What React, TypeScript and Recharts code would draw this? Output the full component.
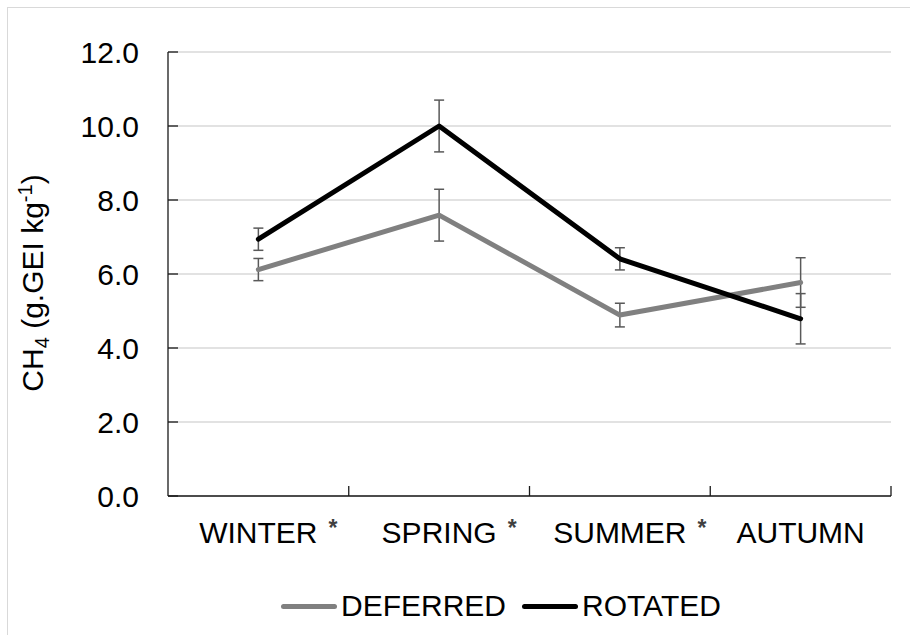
import React from 'react';
import { LineChart, Line, XAxis, YAxis, CartesianGrid, Legend, ErrorBar } from 'recharts';

// seasons on the x axis, * marks a significant difference
const categories = ['WINTER', 'SPRING', 'SUMMER', 'AUTUMN'];
const significant = [true, true, true, false];

// CH4 yield (g.GEI kg-1), mean and error
const deferred = [6.12, 7.59, 4.89, 5.77];
const deferredErr = [0.3, 0.7, 0.32, 0.67];
const rotated = [6.94, 10.0, 6.41, 4.79];
const rotatedErr = [0.3, 0.7, 0.3, 0.68];

const yTicks = [0, 2, 4, 6, 8, 10, 12];

const data = categories.map((season, i) => ({
  season,
  deferred: deferred[i],
  deferredErr: deferredErr[i],
  rotated: rotated[i],
  rotatedErr: rotatedErr[i],
}));

const W = 910;
const H = 635;
const PLOT_LEFT = 168;
const PLOT_RIGHT = 891;
const PLOT_TOP = 52;
const PLOT_BOTTOM = 496;
const BAND = (PLOT_RIGHT - PLOT_LEFT) / categories.length;
const FONT = '"Liberation Sans", Arial, sans-serif';
const FS = 30;

const measure = (() => {
  const ctx = document.createElement('canvas').getContext('2d');
  return (s: string) => {
    if (!ctx) return s.length * FS * 0.65;
    ctx.font = `${FS}px ${FONT}`;
    return ctx.measureText(s).width;
  };
})();

const SeasonTick = (props: any) => {
  const { x, y, payload } = props;
  const idx = categories.indexOf(payload.value);
  const w = measure(payload.value);
  return (
    <g>
      <line x1={x + BAND / 2} x2={x + BAND / 2} y1={PLOT_BOTTOM} y2={PLOT_BOTTOM - 10} stroke="#1a1a1a" strokeWidth={1.3} />
      <text x={x} y={y} dy="0.71em" textAnchor="middle" fontSize={FS} fontFamily={FONT} fill="#000">
        {payload.value}
      </text>
      {significant[idx] && (
        <text x={x + w / 2 + 11} y={y + 14} textAnchor="start" fontSize={23} fontWeight="bold" fontFamily={FONT} fill="#404040">
          *
        </text>
      )}
    </g>
  );
};

const ValueTick = (props: any) => {
  const { x, y, payload } = props;
  return (
    <g>
      <line x1={PLOT_LEFT} x2={PLOT_LEFT + 10} y1={y} y2={y} stroke="#1a1a1a" strokeWidth={1.3} />
      <text x={x} y={y} dy="0.355em" textAnchor="end" fontSize={FS} fontFamily={FONT} fill="#000">
        {Number(payload.value).toFixed(1)}
      </text>
    </g>
  );
};

const YTitle = () => (
  <text
    transform="translate(43, 283) rotate(-90)"
    textAnchor="middle"
    fontSize={FS}
    fontFamily={FONT}
    fill="#000"
  >
    CH<tspan fontSize={20} dy={6}>4</tspan>
    <tspan dy={-6}> (g.GEI kg</tspan>
    <tspan fontSize={20} dy={-11}>-1</tspan>
    <tspan dy={11}>)</tspan>
  </text>
);

const legendItems = [
  { name: 'DEFERRED', color: '#808080' },
  { name: 'ROTATED', color: '#000000' },
];

const renderLegend = () => (
  <div style={{ display: 'flex', alignItems: 'center', fontFamily: FONT, fontSize: FS, color: '#000', height: 34 }}>
    {legendItems.map((it, i) => (
      <div key={it.name} style={{ display: 'flex', alignItems: 'center', marginLeft: i ? 16 : 0 }}>
        <div style={{ width: 56, height: 5, borderRadius: 3, background: it.color, marginRight: 4 }} />
        <span style={{ lineHeight: '34px' }}>{it.name}</span>
      </div>
    ))}
  </div>
);

export default function App() {
  return (
    <div style={{ position: 'absolute', left: 0, top: 0, width: W, height: H, overflow: 'hidden', background: '#fff' }}>
      <div style={{ position: 'absolute', left: 7, top: 7, width: W + 20, height: H + 20, border: '1px solid #d9d9d9' }} />
      <div style={{ position: 'absolute', left: 0, top: 0 }}>
        <LineChart
          width={W}
          height={H}
          data={data}
          margin={{ top: PLOT_TOP, right: W - PLOT_RIGHT, bottom: H - PLOT_BOTTOM - 60, left: 0 }}
        >
          <CartesianGrid vertical={false} stroke="#d9d9d9" strokeWidth={1.5} />
          <XAxis
            dataKey="season"
            scale="band"
            height={60}
            tickSize={0}
            tickMargin={26}
            tickLine={false}
            axisLine={{ stroke: '#1a1a1a', strokeWidth: 1.3 }}
            tick={<SeasonTick />}
            interval={0}
          />
          <YAxis
            width={PLOT_LEFT}
            domain={[0, 12]}
            ticks={yTicks}
            tickSize={0}
            tickMargin={29}
            tickLine={false}
            axisLine={{ stroke: '#1a1a1a', strokeWidth: 1.3 }}
            tick={<ValueTick />}
            label={{ content: <YTitle /> }}
          />
          <Legend
            layout="horizontal"
            verticalAlign="middle"
            align="center"
            content={renderLegend}
            wrapperStyle={{ top: 589, left: 281, width: 'auto' }}
          />
          <Line
            dataKey="deferred"
            name="DEFERRED"
            stroke="#808080"
            strokeWidth={5}
            strokeLinecap="round"
            strokeLinejoin="round"
            dot={false}
            activeDot={false}
            isAnimationActive={false}
          >
            <ErrorBar dataKey="deferredErr" direction="y" width={5} stroke="#595959" strokeWidth={1.5} isAnimationActive={false} />
          </Line>
          <Line
            dataKey="rotated"
            name="ROTATED"
            stroke="#000000"
            strokeWidth={5}
            strokeLinecap="round"
            strokeLinejoin="round"
            dot={false}
            activeDot={false}
            isAnimationActive={false}
          >
            <ErrorBar dataKey="rotatedErr" direction="y" width={5} stroke="#595959" strokeWidth={1.5} isAnimationActive={false} />
          </Line>
        </LineChart>
      </div>
    </div>
  );
}
